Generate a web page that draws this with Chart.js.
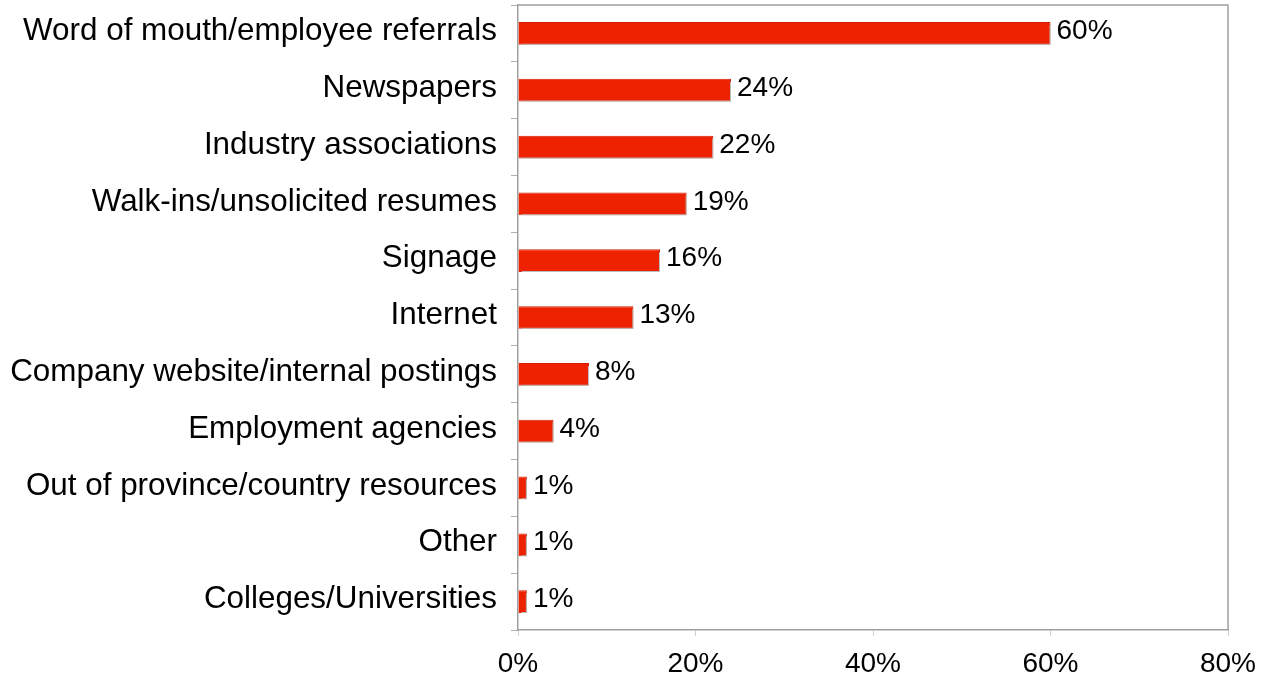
<!DOCTYPE html>
<html>
<head>
<meta charset="utf-8">
<script src="https://cdn.jsdelivr.net/npm/chart.js@4/dist/chart.umd.min.js"></script>
<style>
    html, body { margin: 0; padding: 0; background: #fff; }
    #wrap { width: 1270px; height: 677px; }
</style>
</head>
<body>
<div id="wrap"><canvas id="sourcesChart"></canvas></div>
<script>
    // Recruitment sources and share of respondents (%)
    const sources = [
        'Word of mouth/employee referrals',
        'Newspapers',
        'Industry associations',
        'Walk-ins/unsolicited resumes',
        'Signage',
        'Internet',
        'Company website/internal postings',
        'Employment agencies',
        'Out of province/country resources',
        'Other',
        'Colleges/Universities'
    ];
    const shares = [60, 24, 22, 19, 16, 13, 8, 4, 1, 1, 1];
    const xTicks = [0, 20, 40, 60, 80];

    const FONT = '"Liberation Sans", Arial, Helvetica, sans-serif';
    const AXIS_GREY = '#a0a0a0';

    // Light grey drop shadow under the bars
    const barShadow = {
        id: 'barShadow',
        beforeDatasetDraw(chart) {
            const ctx = chart.ctx;
            ctx.save();
            ctx.shadowColor = '#bcbcbc';
            ctx.shadowOffsetX = 3;
            ctx.shadowOffsetY = 2;
            ctx.shadowBlur = 0;
        },
        afterDatasetDraw(chart) {
            chart.ctx.restore();
        }
    };

    // Value labels at the end of each bar, plus the top/right frame lines
    const valueLabels = {
        id: 'valueLabels',
        afterDatasetsDraw(chart) {
            const ctx = chart.ctx;
            const meta = chart.getDatasetMeta(0);
            ctx.save();
            ctx.fillStyle = '#000';
            ctx.font = '28px ' + FONT;
            ctx.textAlign = 'left';
            ctx.textBaseline = 'middle';
            meta.data.forEach((bar, i) => {
                ctx.fillText(shares[i] + '%', bar.x + 6, bar.y - 2);
            });
            const area = chart.chartArea;
            ctx.strokeStyle = AXIS_GREY;
            ctx.lineWidth = 1.5;
            ctx.beginPath();
            ctx.moveTo(area.left, area.top);
            ctx.lineTo(area.right, area.top);
            ctx.lineTo(area.right, area.bottom);
            ctx.stroke();
            ctx.restore();
        }
    };

    new Chart(document.getElementById('sourcesChart'), {
        type: 'bar',
        data: {
            labels: sources,
            datasets: [{
                data: shares,
                backgroundColor: '#ee2200',
                borderColor: '#d41e00',
                borderWidth: 1,
                categoryPercentage: 1,
                barPercentage: 0.4
            }]
        },
        options: {
            indexAxis: 'y',
            responsive: true,
            maintainAspectRatio: false,
            animation: false,
            layout: {
                padding: { top: 5, right: 42, left: 0, bottom: 0 }
            },
            scales: {
                x: {
                    min: 0,
                    max: 80,
                    afterBuildTicks(axis) {
                        axis.ticks = xTicks.map(v => ({ value: v }));
                    },
                    afterFit(axis) {
                        axis.height = 47;
                    },
                    border: { color: AXIS_GREY, width: 1.5 },
                    grid: {
                        drawOnChartArea: false,
                        drawTicks: true,
                        tickLength: 6,
                        color: '#d0d0d0'
                    },
                    ticks: {
                        color: '#000',
                        padding: 11,
                        maxRotation: 0,
                        font: { family: FONT, size: 28 },
                        callback: v => v + '%'
                    }
                },
                y: {
                    afterFit(axis) {
                        axis.width = 518;
                        axis.paddingTop = 0;
                        axis.paddingBottom = 0;
                    },
                    border: { color: AXIS_GREY, width: 1.5 },
                    grid: {
                        offset: true,
                        drawOnChartArea: false,
                        drawTicks: true,
                        tickLength: 7,
                        color: '#b0b0b0'
                    },
                    ticks: {
                        color: '#000',
                        padding: 14,
                        autoSkip: false,
                        labelOffset: -2,
                        font: { family: FONT, size: 31.4 }
                    }
                }
            },
            plugins: {
                legend: { display: false },
                tooltip: { enabled: false }
            }
        },
        plugins: [barShadow, valueLabels]
    });
</script>
</body>
</html>
